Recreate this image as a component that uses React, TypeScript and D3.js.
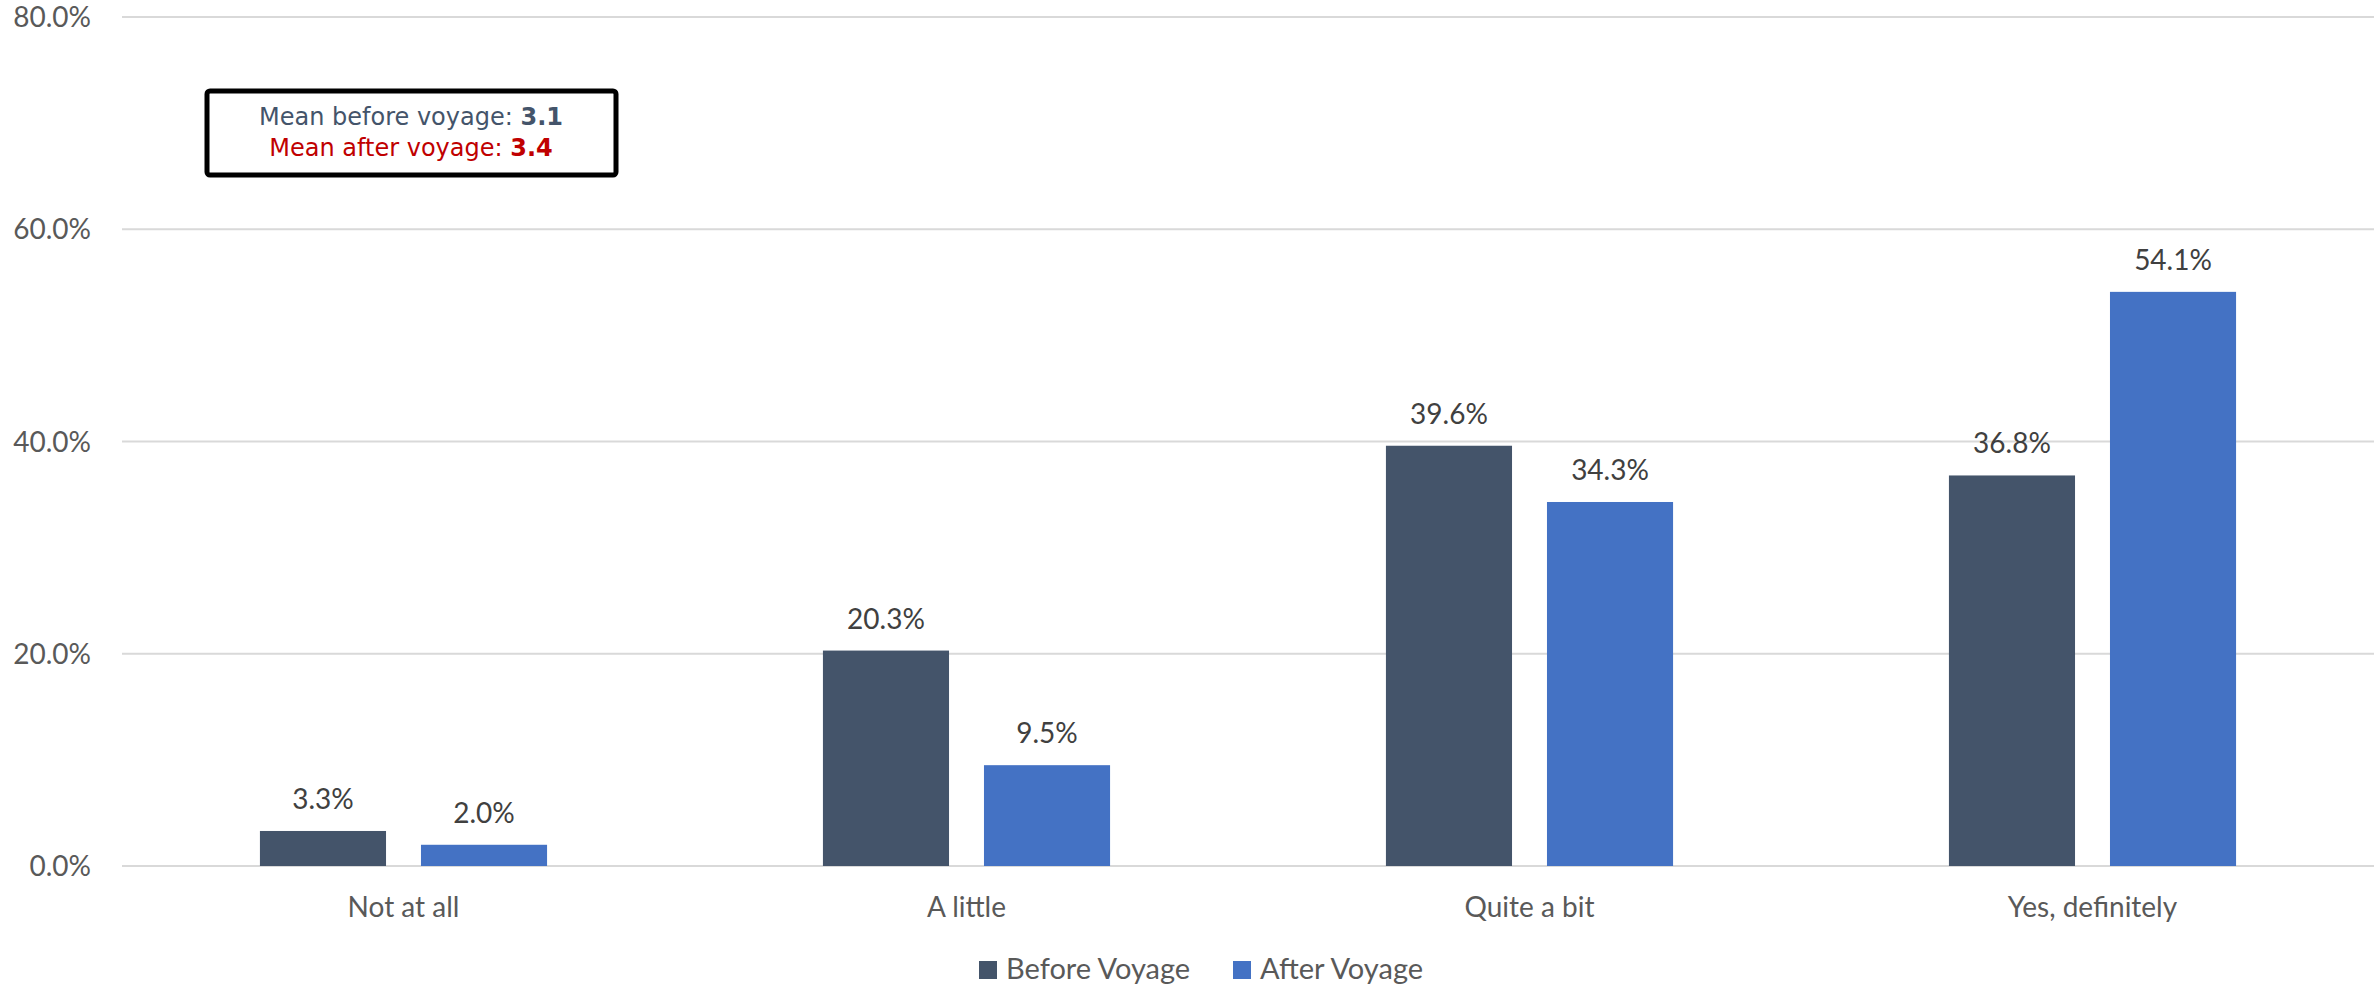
import React, { useEffect, useRef } from 'react';
import * as d3 from 'd3';

// chart data
const categories = ['Not at all', 'A little', 'Quite a bit', 'Yes, definitely'];
const seriesNames = ['Before Voyage', 'After Voyage'];
const beforeValues = [3.3, 20.3, 39.6, 36.8];
const afterValues = [2.0, 9.5, 34.3, 54.1];
const yTicks = [0, 20, 40, 60, 80];
const seriesColors = ['#44546A', '#4472C4'];
const meanLines = [
	{ label: 'Mean before voyage: ', value: '3.1', color: '#44546A' },
	{ label: 'Mean after voyage: ', value: '3.4', color: '#C00000' },
];

const W = 2374;
const H = 987;

export default function App() {
	const ref = useRef<SVGSVGElement>(null);

	useEffect(() => {
		document.body.style.margin = '0';
		const svg = d3.select(ref.current);
		svg.selectAll('*').remove();

		const margin = { top: 17, right: 0, bottom: 121, left: 122 };
		const plotW = W - margin.left - margin.right;
		const plotH = H - margin.top - margin.bottom;
		const font = 'Lato, "Open Sans", sans-serif';

		const x0 = d3.scaleBand().domain(categories).range([0, plotW]).paddingInner(0).paddingOuter(0);
		const bw = x0.bandwidth();
		const x1 = d3.scaleBand().domain(seriesNames).range([0.245 * bw, 0.755 * bw]).paddingInner(0.217);
		const y = d3.scaleLinear().domain([0, 80]).range([plotH, 0]);

		const plot = svg.append('g').attr('transform', `translate(${margin.left},${margin.top})`);

		// gridlines
		plot.selectAll('line.grid')
			.data(yTicks)
			.enter()
			.append('line')
			.attr('class', 'grid')
			.attr('x1', 0)
			.attr('x2', plotW)
			.attr('y1', d => y(d))
			.attr('y2', d => y(d))
			.attr('stroke', '#D9D9D9')
			.attr('stroke-width', 2);

		// y tick labels
		plot.selectAll('text.ytick')
			.data(yTicks)
			.enter()
			.append('text')
			.attr('class', 'ytick')
			.text(d => d.toFixed(1) + '%')
			.attr('x', -31)
			.attr('y', d => y(d))
			.attr('dy', '0.36em')
			.attr('text-anchor', 'end')
			.attr('font-family', font)
			.attr('font-size', 28)
			.attr('fill', '#595959');

		const rows = categories.map((c, i) => ({ cat: c, vals: [beforeValues[i], afterValues[i]] }));

		const groups = plot.selectAll('g.cat')
			.data(rows)
			.enter()
			.append('g')
			.attr('class', 'cat')
			.attr('transform', d => `translate(${x0(d.cat)},0)`);

		groups.selectAll('rect')
			.data(d => d.vals.map((v, i) => ({ name: seriesNames[i], v: v, i: i })))
			.enter()
			.append('rect')
			.attr('x', d => x1(d.name) as number)
			.attr('width', x1.bandwidth())
			.attr('y', d => y(d.v))
			.attr('height', d => plotH - y(d.v))
			.attr('fill', d => seriesColors[d.i]);

		groups.selectAll('text.val')
			.data(d => d.vals.map((v, i) => ({ name: seriesNames[i], v: v })))
			.enter()
			.append('text')
			.attr('class', 'val')
			.text(d => d.v.toFixed(1) + '%')
			.attr('x', d => (x1(d.name) as number) + x1.bandwidth() / 2)
			.attr('y', d => y(d.v) - 22)
			.attr('text-anchor', 'middle')
			.attr('font-family', font)
			.attr('font-size', 28)
			.attr('fill', '#404040');

		// category labels
		plot.selectAll('text.cat')
			.data(categories)
			.enter()
			.append('text')
			.attr('class', 'cat')
			.text(d => d)
			.attr('x', d => (x0(d) as number) + bw / 2)
			.attr('y', plotH + 51)
			.attr('text-anchor', 'middle')
			.attr('font-family', font)
			.attr('font-size', 28)
			.attr('fill', '#595959');

		// legend
		const legend = svg.append('g');
		const legendX = [979, 1233];
		seriesNames.forEach((name, i) => {
			legend.append('rect')
				.attr('x', legendX[i])
				.attr('y', 961)
				.attr('width', 18)
				.attr('height', 18)
				.attr('fill', seriesColors[i]);
			legend.append('text')
				.text(name)
				.attr('x', legendX[i] + 27)
				.attr('y', 979)
				.attr('font-family', font)
				.attr('font-size', 29)
				.attr('fill', '#595959');
		});

		// mean annotation box
		const box = svg.append('g');
		box.append('rect')
			.attr('x', 207)
			.attr('y', 91)
			.attr('width', 409)
			.attr('height', 84)
			.attr('rx', 3)
			.attr('fill', 'white')
			.attr('stroke', 'black')
			.attr('stroke-width', 5);
		meanLines.forEach((m, i) => {
			const t = box.append('text')
				.attr('x', 411)
				.attr('y', 125 + i * 31)
				.attr('text-anchor', 'middle')
				.attr('font-family', '"DejaVu Sans", sans-serif')
				.attr('font-size', 24)
				.attr('fill', m.color);
			t.append('tspan').text(m.label);
			t.append('tspan').text(m.value).attr('font-weight', 'bold');
		});
	}, []);

	return (
		<svg ref={ref} width={W} height={H} style={{ display: 'block', background: 'white' }} />
	);
}
